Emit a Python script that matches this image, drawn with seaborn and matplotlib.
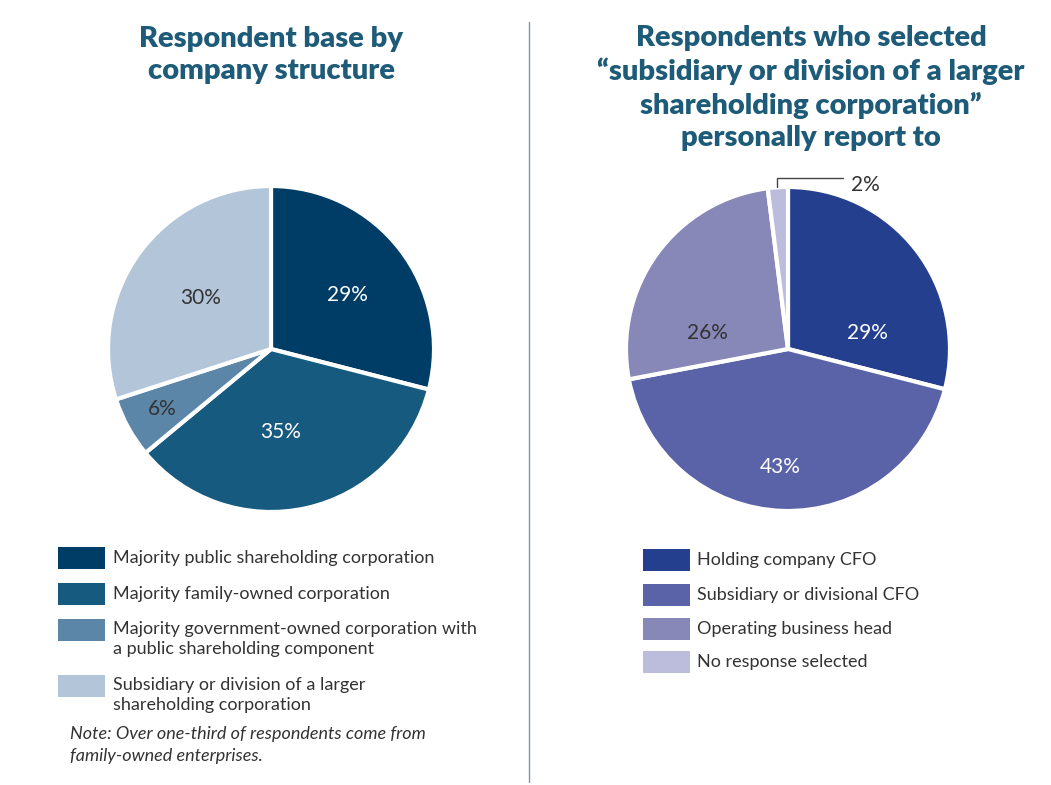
import matplotlib.pyplot as plt
import matplotlib.patches as mpatches
import seaborn as sns

# data
left_labels = ['Majority public shareholding corporation',
               'Majority family-owned corporation',
               'Majority government-owned corporation with\na public shareholding component',
               'Subsidiary or division of a larger\nshareholding corporation']
left_values = [29, 35, 6, 30]
left_colors = ['#003d66', '#165a80', '#5b86a8', '#b3c5d8']

right_labels = ['Holding company CFO', 'Subsidiary or divisional CFO',
                'Operating business head', 'No response selected']
right_values = [29, 43, 26, 2]
right_colors = ['#253f8f', '#5a63a8', '#8787b8', '#bcbcdc']

sns.set_theme(style='white')
plt.rcParams['font.family'] = ['Lato', 'DejaVu Sans']

W, H = 1051, 785
fig = plt.figure(figsize=(W / 100, H / 100), dpi=100)
fig.patch.set_facecolor('white')

title_col = '#1d5b78'
text_col = '#333333'


def fx(px):
    return px / W


def fy(py):
    return 1 - py / H


PAD = 1.3


def pie_axes(cx, cy, r):
    ax = fig.add_axes([fx(cx - r * PAD), fy(cy + r * PAD), 2 * r * PAD / W, 2 * r * PAD / H])
    ax.axis('off')
    return ax


def fix_lims(ax):
    ax.set_xlim(-PAD, PAD)
    ax.set_ylim(-PAD, PAD)
    ax.set_aspect('equal')


# left pie
ax1 = pie_axes(271, 349, 163)
ax1.pie(left_values, colors=left_colors, startangle=90, counterclock=False,
        wedgeprops=dict(edgecolor='white', linewidth=3))
fix_lims(ax1)
left_pos = [(0.47, 0.33), (0.06, -0.51), (-0.67, -0.37), (-0.43, 0.31)]
left_txt = ['white', 'white', text_col, text_col]
for v, (x, y), c in zip(left_values, left_pos, left_txt):
    ax1.text(x, y, f'{v}%', color=c, fontsize=15, ha='center', va='center')

# right pie
ax2 = pie_axes(788, 349, 162)
ax2.pie(right_values, colors=right_colors, startangle=90, counterclock=False,
        wedgeprops=dict(edgecolor='white', linewidth=3))
fix_lims(ax2)
right_pos = [(0.49, 0.10), (-0.05, -0.73), (-0.5, 0.10)]
right_txt = ['white', 'white', text_col]
for v, (x, y), c in zip(right_values[:3], right_pos, right_txt):
    ax2.text(x, y, f'{v}%', color=c, fontsize=15, ha='center', va='center')
ax2.plot([-0.068, -0.068, 0.34], [1.0, 1.058, 1.058], color='#444444', lw=1)
ax2.text(0.39, 1.01, f'{right_values[3]}%', color=text_col, fontsize=15, ha='left', va='center')

# titles
fig.text(fx(271), fy(55), 'Respondent base by\ncompany structure', ha='center', va='center',
         fontsize=21, fontweight='heavy', color=title_col, linespacing=1.28)
fig.text(fx(811), fy(88), 'Respondents who selected\n\u201csubsidiary or division of a larger\n'
         'shareholding corporation\u201d\npersonally report to', ha='center', va='center',
         fontsize=21, fontweight='heavy', color=title_col, linespacing=1.28)

# divider
fig.add_artist(plt.Line2D([fx(529), fx(529)], [fy(22), fy(782)], color='#7a9aab', lw=1))


# legends
def legend(x0, ys, labels, colors, tx):
    for y, lab, col in zip(ys, labels, colors):
        fig.add_artist(mpatches.Rectangle((fx(x0), fy(y + 11)), 47 / W, 22 / H,
                                          facecolor=col, edgecolor='none'))
        if '\n' in lab:
            fig.text(fx(tx), fy(y - 9), lab, ha='left', va='top', fontsize=13,
                     color=text_col, linespacing=1.3)
        else:
            fig.text(fx(tx), fy(y), lab, ha='left', va='center', fontsize=13, color=text_col)


legend(58, [558, 594, 630, 686], left_labels, left_colors, 113)
legend(643, [560, 595, 629, 662], right_labels, right_colors, 697)

fig.text(fx(70), fy(726), 'Note: Over one-third of respondents come from\nfamily-owned enterprises.',
         ha='left', va='top', fontsize=13, style='italic', color=text_col, linespacing=1.45)

fig.savefig('out.png', dpi=100, facecolor='white')
